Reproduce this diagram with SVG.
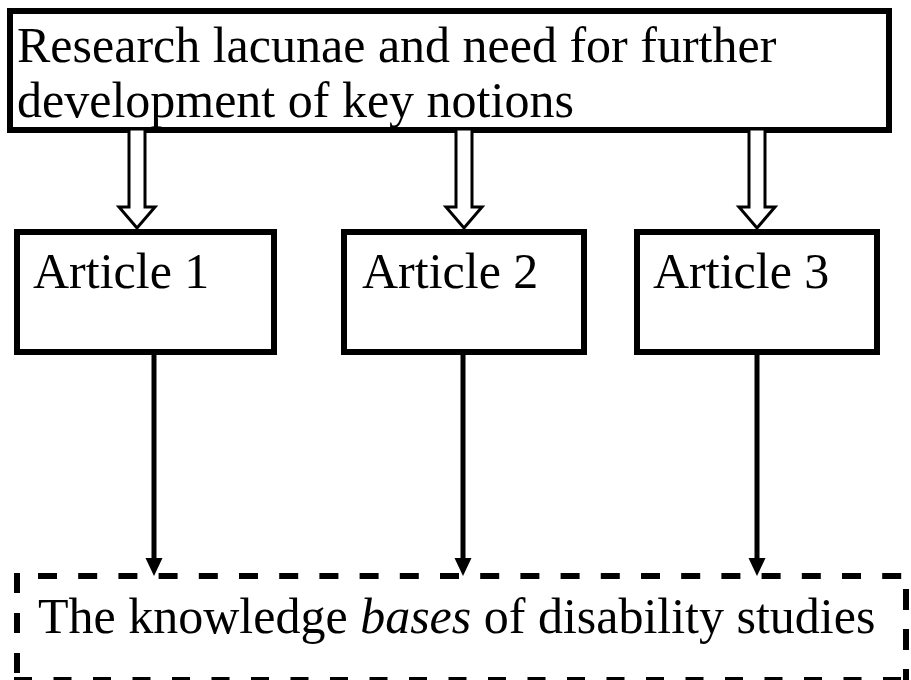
<svg xmlns="http://www.w3.org/2000/svg" width="911" height="680" viewBox="0 0 911 680">
  <style>
    .box { fill: #fff; stroke: #000; stroke-width: 6; }
    .label { font-family: "Liberation Serif", "Times New Roman", serif; font-size: 50px; fill: #000; }
    .hollow { fill: #fff; stroke: #000; stroke-width: 3; stroke-linejoin: miter; }
    .link { stroke: #000; stroke-width: 5; fill: none; }
    .dash { stroke: #000; stroke-width: 6; fill: none; }
  </style>
  <defs>
    <!-- outlined block arrow, centred on x = 0 -->
    <path id="blockArrow" class="hollow" d="M-8,129 H8 V207 H18 L0,228 L-18,207 H-8 Z"/>
    <!-- solid arrowhead, tip at (0, 0) -->
    <path id="solidHead" d="M-8.5,-18 H8.5 L0,0 Z" fill="#000"/>
  </defs>

  <rect width="911" height="680" fill="#fff"/>

  <g id="lacunae">
    <rect class="box" x="10" y="11" width="879" height="119"/>
    <text class="label" x="17" y="62">Research lacunae and need for further</text>
    <text class="label" x="17" y="117">development of key notions</text>
  </g>

  <g id="article1">
    <rect class="box" x="17" y="232" width="257" height="120"/>
    <text class="label" x="33" y="288">Article 1</text>
  </g>

  <g id="article2">
    <rect class="box" x="344" y="232" width="240" height="120"/>
    <text class="label" x="362" y="288">Article 2</text>
  </g>

  <g id="article3">
    <rect class="box" x="637" y="232" width="240" height="120"/>
    <text class="label" x="653" y="288">Article 3</text>
  </g>

  <g id="knowledge-bases">
    <rect x="17" y="576" width="889" height="104" fill="#fff"/>
    <line class="dash" x1="17" y1="573" x2="17" y2="683" stroke-dasharray="20 20"/>
    <line class="dash" x1="38" y1="576" x2="909" y2="576" stroke-dasharray="19 21.2"/>
    <line class="dash" x1="906" y1="589" x2="906" y2="683" stroke-dasharray="21 19"/>
    <line class="dash" x1="14" y1="680" x2="909" y2="680" stroke-dasharray="18 21.5"/>
    <text class="label" x="38" y="633">The knowledge <tspan font-style="italic">bases</tspan> of disability studies</text>
  </g>

  <g id="connectors">
    <use href="#blockArrow" transform="translate(137,0)"/>
    <use href="#blockArrow" transform="translate(464,0)"/>
    <use href="#blockArrow" transform="translate(757,0)"/>
    <line class="link" x1="154" y1="352" x2="154" y2="560"/>
    <use href="#solidHead" transform="translate(154,576)"/>
    <line class="link" x1="463" y1="352" x2="463" y2="560"/>
    <use href="#solidHead" transform="translate(463,576)"/>
    <line class="link" x1="757" y1="352" x2="757" y2="560"/>
    <use href="#solidHead" transform="translate(757,576)"/>
  </g>
</svg>
